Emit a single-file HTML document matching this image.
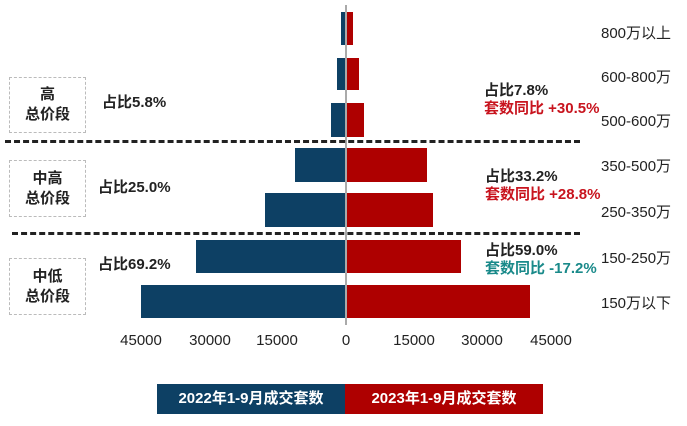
<!DOCTYPE html>
<html><head><meta charset="utf-8"><style>
body{margin:0;width:687px;height:426px;background:#fff;overflow:hidden;position:relative;font-family:"Liberation Sans","Noto Sans CJK SC",sans-serif}
.a{position:absolute}
.b{position:absolute;background:#0d4064}
.r{position:absolute;background:#ae0000}
.t{position:absolute;font-size:15px;color:#222;white-space:nowrap}
.box{position:absolute;border:1.5px dashed #bbb;font-weight:bold;font-size:15px;color:#222;text-align:center;line-height:20px;display:flex;flex-direction:column;justify-content:center}
.dash{position:absolute;height:0;border-top:3px dashed #222}
.lab{position:absolute;font-weight:bold;font-size:15px;white-space:nowrap;line-height:18px}
.ax{position:absolute;top:332px;font-size:15px;color:#222;width:60px;text-align:center}
</style></head><body>
<div class="b" style="left:341px;top:12px;width:5px;height:33px"></div>
<div class="r" style="left:346px;top:12px;width:7px;height:33px"></div>
<div class="b" style="left:337px;top:58px;width:9px;height:32px"></div>
<div class="r" style="left:346px;top:58px;width:13px;height:32px"></div>
<div class="b" style="left:331px;top:103px;width:15px;height:34px"></div>
<div class="r" style="left:346px;top:103px;width:18px;height:34px"></div>
<div class="b" style="left:295px;top:148px;width:51px;height:34px"></div>
<div class="r" style="left:346px;top:148px;width:81px;height:34px"></div>
<div class="b" style="left:265px;top:193px;width:81px;height:34px"></div>
<div class="r" style="left:346px;top:193px;width:87px;height:34px"></div>
<div class="b" style="left:196px;top:240px;width:150px;height:33px"></div>
<div class="r" style="left:346px;top:240px;width:115px;height:33px"></div>
<div class="b" style="left:141px;top:285px;width:205px;height:33px"></div>
<div class="r" style="left:346px;top:285px;width:184px;height:33px"></div>
<div class="a" style="left:345px;top:5px;width:2px;height:320px;background:#aaa"></div>
<div class="dash" style="left:5px;top:140px;width:575px"></div>
<div class="dash" style="left:12px;top:232px;width:568px"></div>
<div class="box" style="left:9px;top:77px;width:75px;height:54px">高<br>总价段</div>
<div class="box" style="left:9px;top:160px;width:75px;height:55px">中高<br>总价段</div>
<div class="box" style="left:9px;top:258px;width:75px;height:55px">中低<br>总价段</div>
<div class="lab" style="left:102px;top:94px;color:#222">占比5.8%</div>
<div class="lab" style="left:98px;top:179px;color:#222">占比25.0%</div>
<div class="lab" style="left:98px;top:256px;color:#222">占比69.2%</div>
<div class="lab" style="left:484px;top:82px;color:#222">占比7.8%<br><span style="color:#c8141e">套数同比 +30.5%</span></div>
<div class="lab" style="left:485px;top:168px;color:#222">占比33.2%<br><span style="color:#c8141e">套数同比 +28.8%</span></div>
<div class="lab" style="left:485px;top:242px;color:#222">占比59.0%<br><span style="color:#1a8a8a">套数同比 -17.2%</span></div>
<div class="t" style="left:601px;top:22px">800万以上</div>
<div class="t" style="left:601px;top:66px">600-800万</div>
<div class="t" style="left:601px;top:110px">500-600万</div>
<div class="t" style="left:601px;top:155px">350-500万</div>
<div class="t" style="left:601px;top:201px">250-350万</div>
<div class="t" style="left:601px;top:247px">150-250万</div>
<div class="t" style="left:601px;top:292px">150万以下</div>
<div class="ax" style="left:111px">45000</div>
<div class="ax" style="left:180px">30000</div>
<div class="ax" style="left:247px">15000</div>
<div class="ax" style="left:316px">0</div>
<div class="ax" style="left:384px">15000</div>
<div class="ax" style="left:452px">30000</div>
<div class="ax" style="left:521px">45000</div>
<div class="a" style="left:157px;top:384px;width:188px;height:30px;background:#0d4064;color:#fff;font-weight:bold;font-size:15px;line-height:30px;text-align:center">2022年1-9月成交套数</div>
<div class="a" style="left:345px;top:384px;width:198px;height:30px;background:#ae0000;color:#fff;font-weight:bold;font-size:15px;line-height:30px;text-align:center">2023年1-9月成交套数</div>
</body></html>
